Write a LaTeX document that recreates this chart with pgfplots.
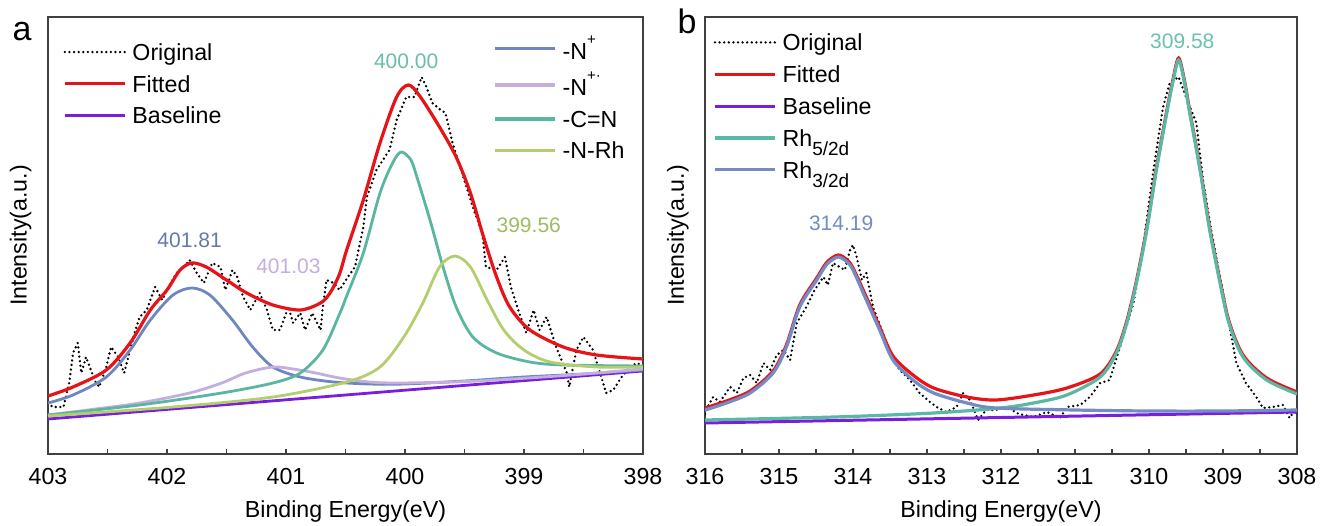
\documentclass[border=0pt]{standalone}
\usepackage{fontspec}
\setmainfont{Liberation Sans}
\usepackage{pgfplots}
\pgfplotsset{compat=1.18}
\definecolor{fitred}{RGB}{230,20,25}
\definecolor{basepur}{RGB}{120,30,220}
\definecolor{nplus}{RGB}{110,135,190}
\definecolor{nrad}{RGB}{195,175,222}
\definecolor{cn}{RGB}{90,182,160}
\definecolor{nrh}{RGB}{180,205,110}
\definecolor{rhf}{RGB}{90,185,165}
\definecolor{rht}{RGB}{115,140,195}
\newcommand{\fs}{\fontsize{11.6}{13.9}\selectfont}
\newcommand{\pk}{\fontsize{10.5}{12}\selectfont}
\pgfplotsset{
  xps/.style={
    scale only axis, height=218.5pt, x dir=reverse, ymin=0, ymax=437,
    clip mode=individual,
    axis line style={black!75, line width=0.6pt},
    ytick=\empty, xtick pos=bottom, tick align=inside, minor x tick num=1,
    major tick length=2.5pt, minor tick length=2.5pt,
    every tick/.style={black!75, line width=0.6pt},
    /pgf/number format/assume math mode=true,
    ticklabel style={font=\fs},
    xticklabel style={anchor=base, yshift=-15pt},
    label style={font=\fs, inner sep=0pt},
    xlabel style={at={(axis description cs:0.5,0)}, anchor=base, yshift=-31.5pt},
    ylabel style={at={(axis description cs:-0.027,0.5)}, anchor=south},
    legend cell align=left,
    legend style={draw=none, fill=none, inner sep=0pt, row sep=2.7pt, column sep=2pt,
      nodes={inner sep=1pt, font=\fs}},
    legend image code/.code={\draw[##1] (0pt,0pt) -- (30pt,0pt);},
  },
  orig/.style={black, line width=1.3pt, line cap=round, dash pattern=on 0pt off 2.3pt},
}
\begin{document}
\begin{tikzpicture}
\path[use as bounding box] (-24pt,-35.5pt) rectangle (637pt,227pt);
% ---------------- panel a ----------------
\begin{axis}[xps, at={(0pt,0pt)}, anchor=south west, width=297.5pt,
  xmin=398, xmax=403, xtick={398,...,403},
  xlabel={Binding Energy(eV)}, ylabel={Intensity(a.u.)},
  legend style={at={(axis description cs:0.025,0.951)}, anchor=north west}]
\addplot[forget plot, orig] coordinates {
(403.00,51) (402.96,47) (402.87,47) (402.82,72) (402.79,101) (402.75,111) (402.72,81)
(402.68,97) (402.64,84) (402.60,72) (402.57,67) (402.51,87) (402.47,107) (402.41,97)
(402.36,81) (402.31,104) (402.27,122) (402.23,137) (402.17,144) (402.10,167) (402.04,154)
(402.00,164) (401.92,181) (401.86,187) (401.81,194) (401.75,181) (401.69,171) (401.62,191)
(401.55,187) (401.51,164) (401.45,184) (401.41,177) (401.36,157) (401.30,144) (401.22,161)
(401.16,144) (401.11,124) (401.05,124) (400.98,147) (400.94,131) (400.88,141) (400.84,124)
(400.78,141) (400.71,124) (400.69,147) (400.66,174) (400.60,171) (400.55,164) (400.48,177)
(400.42,187) (400.35,227) (400.32,257) (400.24,284) (400.13,304) (400.07,334) (399.99,357)
(399.92,357) (399.86,377) (399.82,367) (399.77,351) (399.70,344) (399.66,341) (399.60,311)
(399.52,281) (399.43,247) (399.35,221) (399.32,187) (399.23,184) (399.16,197) (399.11,167)
(399.04,141) (398.98,121) (398.92,144) (398.87,124) (398.81,137) (398.73,107) (398.64,81)
(398.62,67) (398.56,104) (398.50,117) (398.42,104) (398.36,81) (398.31,61) (398.25,64)
(398.18,77) (398.11,87) (398.05,91) (398.00,88)};
\addplot[forget plot, fitred, line width=1.6pt, smooth] coordinates {
(403.00,58) (402.79,67) (402.51,84) (402.31,111) (402.14,144) (402.00,164) (401.89,184)
(401.79,191) (401.67,187) (401.50,174) (401.33,161) (401.11,149) (400.88,144) (400.71,151)
(400.63,161) (400.55,180) (400.49,204) (400.35,254) (400.21,311) (400.07,357) (399.97,369)
(399.87,357) (399.71,327) (399.57,297) (399.45,261) (399.34,217) (399.23,177) (399.12,147)
(398.95,124) (398.67,107) (398.39,99) (398.00,95)};
\addplot[forget plot, basepur, line width=1.4pt] coordinates {(403,35) (398,83)};
\addplot[forget plot, nplus, line width=1.4pt, smooth] coordinates {
(403.00,51) (402.79,59) (402.51,77) (402.31,104) (402.14,134) (401.95,159) (401.79,166)
(401.64,159) (401.45,134) (401.28,107) (401.11,87) (400.88,77) (400.60,72) (400.30,70)
(400.00,70) (399.50,73) (399.00,77) (398.50,80) (398.00,84)};
\addplot[forget plot, nrad, line width=1.4pt, smooth] coordinates {
(403.00,39) (402.60,45) (402.23,51) (401.81,61) (401.54,71) (401.34,81) (401.11,87)
(400.94,85) (400.75,81) (400.55,76) (400.30,72) (400.07,71) (399.60,72) (399.23,74)
(398.60,79) (398.00,85)};
\addplot[forget plot, cn, line width=1.4pt, smooth] coordinates {
(403.00,39) (402.23,49) (401.54,61) (401.11,71) (400.88,81) (400.69,104) (400.55,140)
(400.49,158) (400.35,201) (400.21,261) (400.10,292) (400.03,302) (399.95,294) (399.90,277)
(399.79,234) (399.68,187) (399.57,147) (399.43,117) (399.23,101) (398.95,92) (398.67,89)
(398.00,88)};
\addplot[forget plot, nrh, line width=1.4pt, smooth] coordinates {
(403.00,38) (401.95,47) (401.11,57) (400.49,72) (400.21,87) (400.01,117) (399.85,151)
(399.71,187) (399.58,198) (399.45,187) (399.31,154) (399.17,124) (399.00,104) (398.78,92)
(398.39,87) (398.00,87)};
\addlegendimage{orig}\addlegendentry{Original\strut}
\addlegendimage{fitred, line width=1.6pt}\addlegendentry{Fitted\strut}
\addlegendimage{basepur, line width=1.6pt}\addlegendentry{Baseline\strut}
\node[font=\pk, text=nplus!90!black] at (axis cs:401.81,214) {401.81};
\node[font=\pk, text=nrad] at (axis cs:400.98,188) {401.03};
\node[font=\pk, text=cn!90!white] at (axis cs:399.99,393) {400.00};
\node[font=\pk, text=nrh!90!black] at (axis cs:398.96,229) {399.56};
\node[anchor=base, font=\fontsize{17}{17}\selectfont] at (axis description cs:-0.0437,0.947) {a};
\end{axis}
\begin{axis}[xps, at={(0pt,0pt)}, anchor=south west, width=297.5pt,
  xmin=398, xmax=403, hide axis,
  legend style={at={(axis description cs:0.748,0.963)}, anchor=north west}]
\addlegendimage{nplus, line width=1.6pt}\addlegendentry{-N\raisebox{7.5pt}{\fontsize{7.5}{7.5}\selectfont +}\strut}
\addlegendimage{nrad, line width=1.6pt}\addlegendentry{-N\raisebox{7.5pt}{\fontsize{7.5}{7.5}\selectfont +·}\strut}
\addlegendimage{cn, line width=1.6pt}\addlegendentry{-C=N\strut}
\addlegendimage{nrh, line width=1.6pt}\addlegendentry{-N-Rh\strut}
\end{axis}
% ---------------- panel b ----------------
\begin{axis}[xps, at={(328.5pt,0pt)}, anchor=south west, width=296pt,
  xmin=308, xmax=316, xtick={308,...,316},
  xlabel={Binding Energy(eV)}, ylabel={Intensity(a.u.)},
  legend style={at={(axis description cs:0.0135,0.973)}, anchor=north west}]
\addplot[forget plot, orig] coordinates {
(316.00,40) (315.95,49) (315.89,57) (315.80,52) (315.66,67) (315.57,61) (315.48,76)
(315.39,79) (315.30,71) (315.21,91) (315.12,84) (315.03,99) (314.94,104) (314.85,94)
(314.76,131) (314.63,147) (314.52,164) (314.40,177) (314.34,169) (314.27,191) (314.18,187)
(314.11,184) (314.04,204) (314.00,209) (313.95,197) (313.88,174) (313.82,181) (313.73,147)
(313.61,124) (313.50,101) (313.37,84) (313.23,74) (313.10,61) (312.96,52) (312.87,47)
(312.74,42) (312.60,47) (312.51,61) (312.42,54) (312.31,34) (312.20,44) (312.07,44)
(311.92,47) (311.76,40) (311.56,37) (311.38,42) (311.20,36) (311.11,47) (310.93,49)
(310.80,57) (310.66,71) (310.53,74) (310.46,91) (310.35,117) (310.21,151) (310.08,207)
(309.94,284) (309.81,347) (309.72,371) (309.60,377) (309.50,357) (309.36,331) (309.27,274)
(309.16,224) (309.04,177) (308.92,131) (308.82,91) (308.69,71) (308.55,57) (308.46,46)
(308.33,47) (308.19,49) (308.10,36) (308.03,44) (308.00,40)};
\addplot[forget plot, fitred, line width=1.6pt, smooth] coordinates {
(316.00,46) (315.71,53) (315.39,63) (315.08,83) (314.90,109) (314.72,149) (314.49,176)
(314.35,192) (314.20,199) (314.08,194) (314.00,186) (313.82,157) (313.64,127) (313.46,98)
(313.19,79) (312.91,66) (312.46,57) (312.07,54) (311.56,59) (311.11,66) (310.66,80)
(310.44,103) (310.30,133) (310.17,173) (310.03,226) (309.90,286) (309.76,343) (309.68,373)
(309.60,396) (309.52,373) (309.45,343) (309.31,286) (309.18,226) (309.04,173) (308.92,133)
(308.73,99) (308.41,76) (308.00,62)};
\addplot[forget plot, basepur, line width=1.5pt] coordinates {(316,31) (308,42)};
\addplot[forget plot, rhf, line width=1.6pt, smooth] coordinates {
(316.00,34) (314.25,37) (312.91,41) (312.01,46) (311.56,51) (311.11,59) (310.66,77)
(310.44,101) (310.30,131) (310.17,171) (310.03,224) (309.90,284) (309.76,341) (309.68,371)
(309.60,394) (309.52,371) (309.45,341) (309.31,284) (309.18,224) (309.04,171) (308.92,131)
(308.73,97) (308.41,74) (308.00,60)};
\addplot[forget plot, rht, line width=1.6pt, smooth] coordinates {
(316.00,44) (315.71,51) (315.39,61) (315.08,81) (314.90,107) (314.72,147) (314.49,174)
(314.35,190) (314.20,197) (314.08,192) (314.00,184) (313.82,154) (313.64,124) (313.46,94)
(313.19,74) (312.91,61) (312.46,51) (312.07,46) (311.00,44) (310.00,43) (309.00,43)
(308.00,44)};
\addlegendimage{orig}\addlegendentry{Original\strut}
\addlegendimage{fitred, line width=1.6pt}\addlegendentry{Fitted\strut}
\addlegendimage{basepur, line width=1.6pt}\addlegendentry{Baseline\strut}
\addlegendimage{rhf, line width=1.6pt}\addlegendentry{Rh\raisebox{-4.5pt}{\fontsize{9.5}{9.5}\selectfont 5/2d}\strut}
\addlegendimage{rht, line width=1.6pt}\addlegendentry{Rh\raisebox{-4.5pt}{\fontsize{9.5}{9.5}\selectfont 3/2d}\strut}
\node[font=\pk, text=rhf!90!white] at (axis cs:309.55,412.5) {309.58};
\node[font=\pk, text=rht] at (axis cs:314.16,230.5) {314.19};
\node[anchor=base, font=\fontsize{17}{17}\selectfont] at (axis description cs:-0.0304,0.963) {b};
\end{axis}
\end{tikzpicture}
\end{document}
